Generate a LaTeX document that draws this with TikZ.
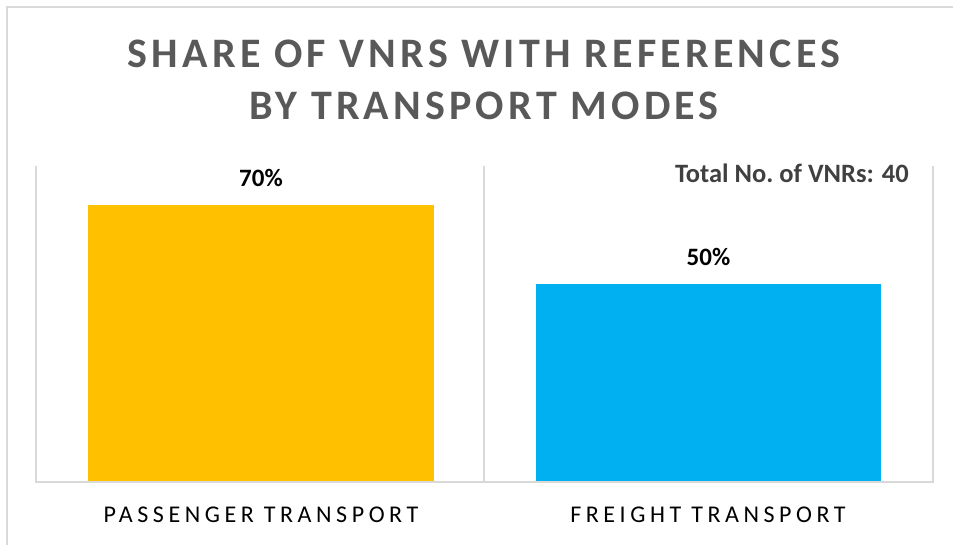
\documentclass[tikz,border=0pt]{standalone}
\usepackage{fontspec}
\setmainfont{Carlito}
\newfontfamily\titlefont[LetterSpace=10]{Carlito}
\newfontfamily\catfont[LetterSpace=19]{Carlito}
\definecolor{gridgray}{HTML}{D9D9D9}
\definecolor{titlegray}{HTML}{595959}
\definecolor{notegray}{HTML}{404040}
\definecolor{passyellow}{HTML}{FFC000}
\definecolor{freightblue}{HTML}{00B0F0}

\begin{document}
\begin{tikzpicture}[x=1pt,y=-1pt]
        \tikzstyle{every node}+=[inner sep=0pt]
        \tikzset{grid/.style={gridgray, line width=1.5pt},
          pct/.style={anchor=base, font=\fontsize{25}{30}\selectfont\bfseries},
          cat/.style={anchor=base, font=\fontsize{24}{28}\selectfont\catfont}}
        \useasboundingbox (0,0) rectangle (953,545);
        % frame
        \draw [gridgray, line width=2pt] (7,545) -- (7,7) -- (953,7);
        % title
        \node (title1) [anchor=base, titlegray, font=\fontsize{42}{50}\selectfont\titlefont\bfseries] at (484,68) {SHARE OF VNRS WITH REFERENCES};
        \node (title2) [anchor=base, titlegray, font=\fontsize{42}{50}\selectfont\titlefont\bfseries] at (484,120) {BY TRANSPORT MODES};
        % bars
        \fill [passyellow] (88,482) rectangle (434,205);
        \fill [freightblue] (536,482) rectangle (881,284);
        % plot area
        \draw [grid] (36,166) -- (36,482) -- (933,482) -- (933,166);
        \draw [grid] (484,166) -- (484,482);
        % labels
        \node (pval) [pct] at (261,187) {70\%};
        \node (fval) [pct] at (708.5,266) {50\%};
        \node (total) [anchor=base east, notegray, font=\fontsize{26.5}{31}\selectfont\bfseries] at (909,183) {Total No.\ of VNRs: 40};
        \node (pcat) [cat] at (261,522) {PASSENGER TRANSPORT};
        \node (fcat) [cat] at (708,522) {FREIGHT TRANSPORT};
      \end{tikzpicture}
\end{document}
